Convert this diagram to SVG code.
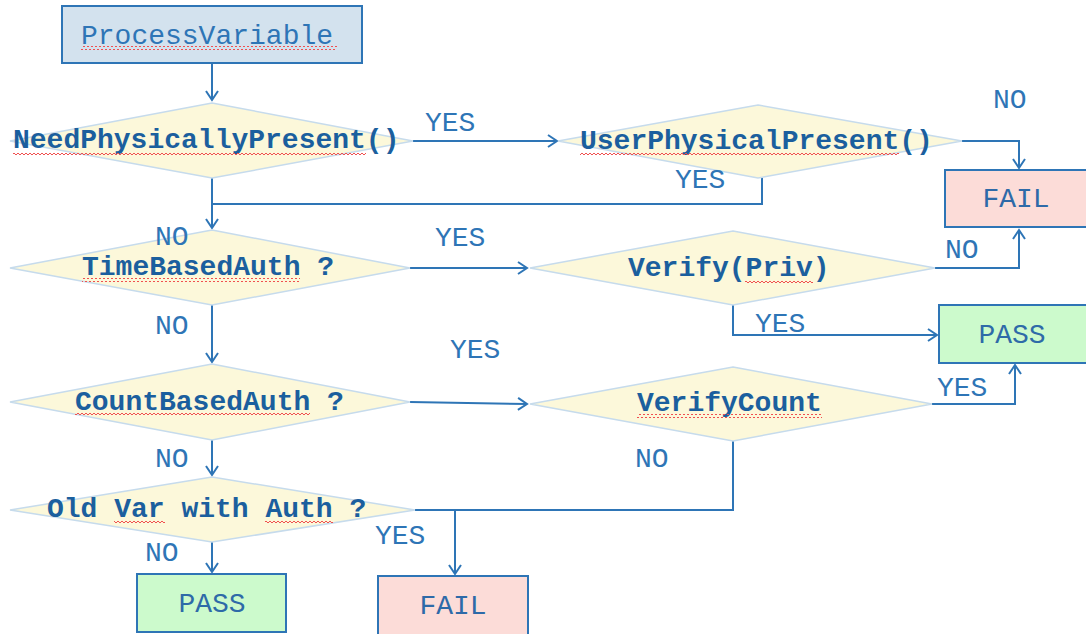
<svg xmlns="http://www.w3.org/2000/svg" width="1086" height="634" viewBox="0 0 1086 634">
<defs>
<style>
.dia{fill:#fcf8da;stroke:#c6dbec;stroke-width:1.5}
.dt{font-family:"Liberation Mono","Courier New",monospace;font-size:28px;font-weight:bold;fill:#1b5f9e}
.lb{font-family:"Liberation Mono","Courier New",monospace;font-size:28px;fill:#2e75b6}
.bt{font-family:"Liberation Mono","Courier New",monospace;font-size:28px;fill:#2e6aa8;text-anchor:middle}
.box{stroke:#2e75b6;stroke-width:2}
.fail{fill:#fcdcd8}
.pass{fill:#ccfacc}
.c{fill:none;stroke:#2e75b6;stroke-width:2}
.sq{fill:url(#wave)}
</style>
<marker id="ah" markerWidth="14" markerHeight="14" refX="11" refY="7" orient="auto" markerUnits="userSpaceOnUse">
<path d="M2,1 L11,7 L2,13" fill="none" stroke="#2e75b6" stroke-width="2"/>
</marker>
<pattern id="wave" width="4" height="4" patternUnits="userSpaceOnUse">
<path d="M0,3 L2,1 L4,3" fill="none" stroke="#f05050" stroke-width="1"/>
</pattern>
</defs>
<rect width="1086" height="634" fill="#ffffff"/>

<g id="connectors">
<path class="c" d="M212,63 V100" marker-end="url(#ah)"/>
<path class="c" d="M413,141 H557" marker-end="url(#ah)"/>
<path class="c" d="M962,141 H1019 V168" marker-end="url(#ah)"/>
<path class="c" d="M762,178 V204 H212"/>
<path class="c" d="M212,178 V228" marker-end="url(#ah)"/>
<path class="c" d="M410,268 H527" marker-end="url(#ah)"/>
<path class="c" d="M935,268 H1019 V230" marker-end="url(#ah)"/>
<path class="c" d="M733,305 V335 H937" marker-end="url(#ah)"/>
<path class="c" d="M212,305 V362" marker-end="url(#ah)"/>
<path class="c" d="M410,402 L527,404" marker-end="url(#ah)"/>
<path class="c" d="M932,404 H1015 V365" marker-end="url(#ah)"/>
<path class="c" d="M212,440 V475" marker-end="url(#ah)"/>
<path class="c" d="M733,441 V510 H455" stroke="#7ba5cf"/>
<path class="c" d="M415,510 H455 V574" marker-end="url(#ah)"/>
<path class="c" d="M212,542 V572" marker-end="url(#ah)"/>
</g>

<g id="processVariable">
<rect class="box" x="62" y="6" width="300" height="57" fill="#d3e2ee"/>
<text x="81" y="44" font-family="'Liberation Mono','Courier New',monospace" font-size="28" fill="#2e75b6">ProcessVariable</text>
<rect class="sq" x="81" y="46" width="256" height="4"/>
</g>

<g id="needPhysicallyPresent">
<polygon class="dia" points="212,103 413,141 212,178 10,141"/>
<text class="dt" x="13" y="148">NeedPhysicallyPresent()</text>
<rect class="sq" x="13" y="151" width="353" height="4"/>
</g>

<g id="userPhysicalPresent">
<polygon class="dia" points="758,105 962,141 758,178 558,141"/>
<text class="dt" x="580" y="149">UserPhysicalPresent()</text>
<rect class="sq" x="580" y="152" width="319" height="4"/>
</g>

<g id="failTop">
<rect class="box fail" x="945" y="170" width="145" height="57"/>
<text class="bt" x="1016" y="207">FAIL</text>
</g>

<g id="timeBasedAuth">
<polygon class="dia" points="212,230 410,268 212,305 10,268"/>
<text class="dt" x="82" y="275">TimeBasedAuth ?</text>
<rect class="sq" x="82" y="278" width="218" height="4"/>
</g>

<g id="verifyPriv">
<polygon class="dia" points="733,231 935,268 733,305 530,268"/>
<text class="dt" x="628" y="276">Verify(Priv)</text>
<rect class="sq" x="745" y="279" width="68" height="4"/>
</g>

<g id="passTop">
<rect class="box pass" x="939" y="305" width="150" height="58"/>
<text class="bt" x="1012" y="343">PASS</text>
</g>

<g id="countBasedAuth">
<polygon class="dia" points="212,364 410,402 212,440 10,402"/>
<text class="dt" x="75" y="410">CountBasedAuth ?</text>
<rect class="sq" x="75" y="413" width="235" height="4"/>
</g>

<g id="verifyCount">
<polygon class="dia" points="733,367 932,404 733,441 530,404"/>
<text class="dt" x="637" y="411">VerifyCount</text>
<rect class="sq" x="637" y="414" width="185" height="4"/>
</g>

<g id="oldVarWithAuth">
<polygon class="dia" points="212,477 415,510 212,542 10,510"/>
<text class="dt" x="47" y="517">Old Var with Auth ?</text>
<rect class="sq" x="114" y="520" width="51" height="4"/>
<rect class="sq" x="265" y="520" width="68" height="4"/>
</g>

<g id="passBottom">
<rect class="box pass" x="137" y="574" width="149" height="58"/>
<text class="bt" x="212" y="612">PASS</text>
</g>

<g id="failBottom">
<rect class="box fail" x="378" y="576" width="150" height="60"/>
<text class="bt" x="453" y="614">FAIL</text>
</g>

<g id="labels">
<text class="lb" x="425" y="131">YES</text>
<text class="lb" x="993" y="108">NO</text>
<text class="lb" x="675" y="188">YES</text>
<text class="lb" x="155" y="245">NO</text>
<text class="lb" x="435" y="246">YES</text>
<text class="lb" x="945" y="258">NO</text>
<text class="lb" x="755" y="332">YES</text>
<text class="lb" x="155" y="334">NO</text>
<text class="lb" x="450" y="358">YES</text>
<text class="lb" x="937" y="396">YES</text>
<text class="lb" x="155" y="467">NO</text>
<text class="lb" x="635" y="467">NO</text>
<text class="lb" x="375" y="544">YES</text>
<text class="lb" x="145" y="561">NO</text>
</g>
</svg>
